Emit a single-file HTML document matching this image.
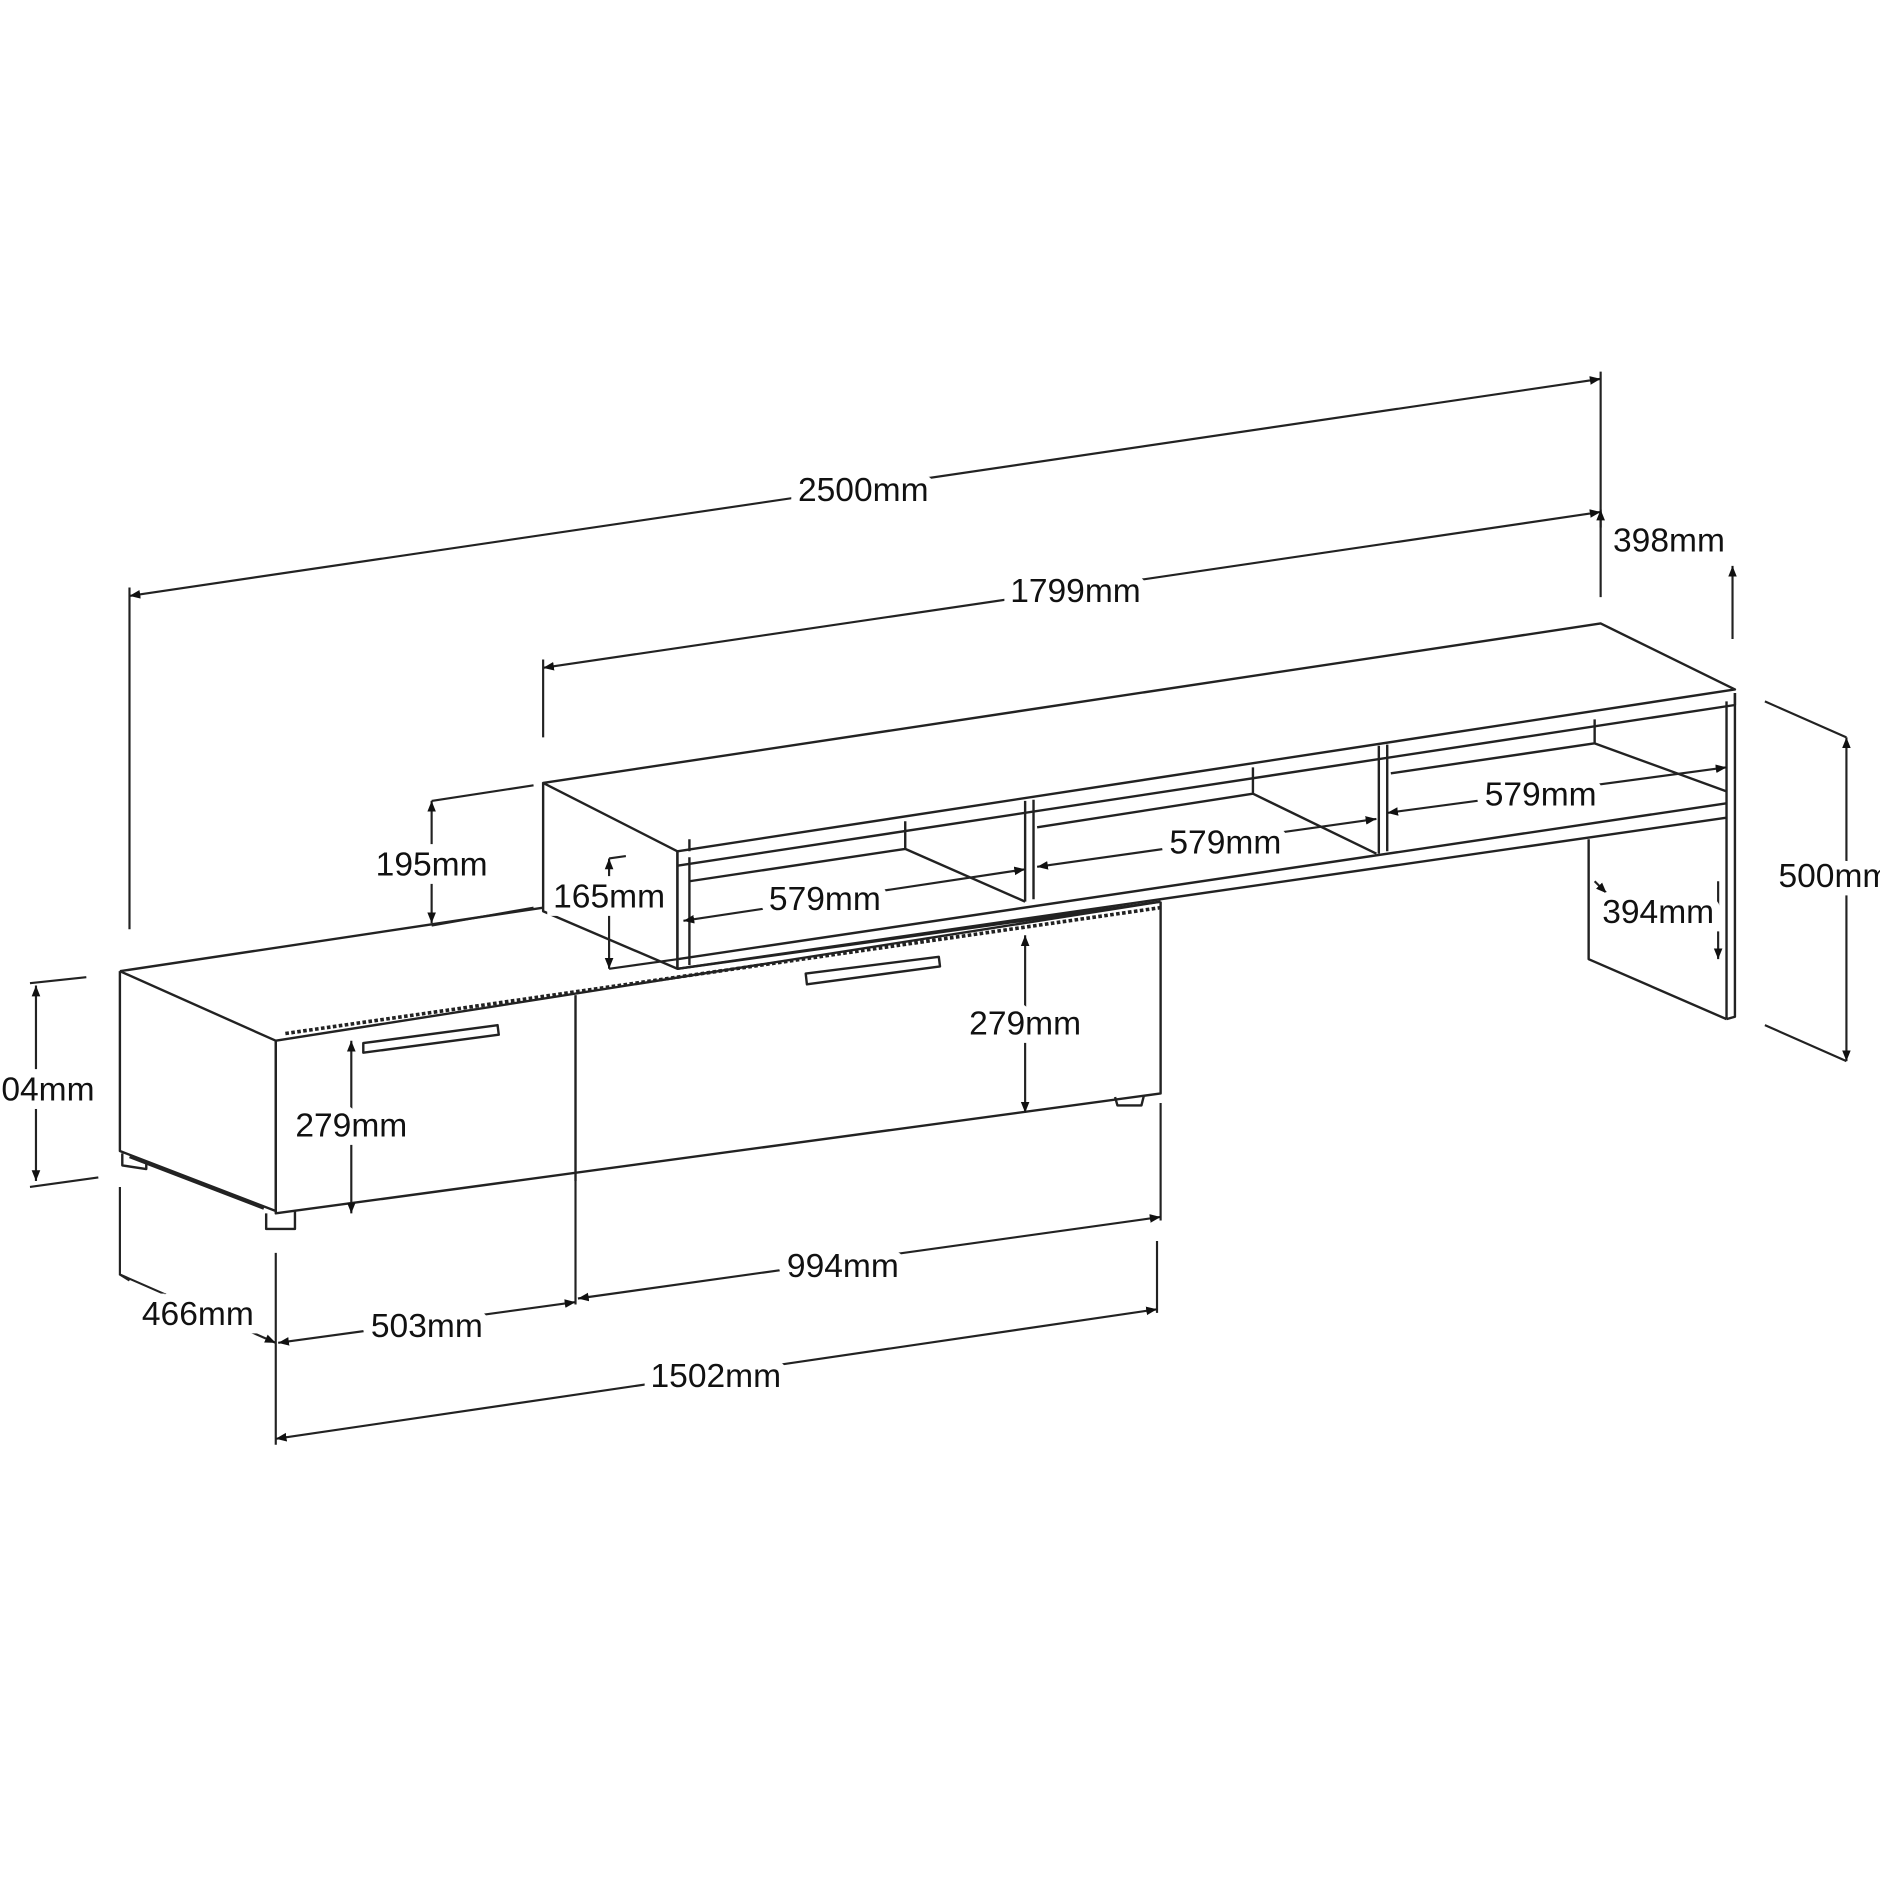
<!DOCTYPE html>
<html><head><style>html,body{margin:0;padding:0;background:#fff}svg{display:block}</style></head>
<body>
<svg width="1880" height="1880" viewBox="0 0 1568 1568" xmlns="http://www.w3.org/2000/svg">
<defs>
<marker id="a" viewBox="0 0 10 10" refX="10" refY="5" markerWidth="9" markerHeight="9" orient="auto-start-reverse" markerUnits="userSpaceOnUse"><path d="M0,1 L10,5 L0,9 z" fill="#111"/></marker>
</defs>
<g stroke="#222" stroke-width="2" fill="none" stroke-linejoin="round">
<path d="M453,653 L1335,520 L1447,575 L565,710 Z" fill="#fff"/>
<path d="M453,653 L453,760 L565,808 L565,710"/>
<path d="M565,710 L565,808 M575,715 L575,805"/>
<path d="M565,722 L1447,588 L1447,578"/>
<path d="M575,735 L755,708 M575,710 L575,700 M755,685 L755,708 L855,752"/>
<path d="M565,800 L1440,670 M565,808 L1440,682"/>
<path d="M855,668 L855,752 M862,667 L862,750"/>
<path d="M865,690 L1045,662 M1045,640 L1045,662 L1148,712"/>
<path d="M1150,622 L1150,712 M1157,621 L1157,710"/>
<path d="M1160,645 L1330,620 L1330,600 M1330,620 L1440,660"/>
<path d="M1440,585 L1440,850 M1447,578 L1447,848 L1440,850"/>
<path d="M1325,700 L1325,800 L1440,850"/>
<path d="M100,810 L453,757 M565,808 L968,752" />
<path d="M100,810 L230,868 L968,752"/>
<path d="M238,862 L968,757" stroke-dasharray="3,2" stroke-width="3"/>
<path d="M100,810 L100,960 L230,1010 L230,868"/>
<path d="M108,965 L220,1008"/>
<path d="M230,868 L230,1012 L968,912 L968,752"/>
<path d="M480,830 L480,985"/>
<path d="M303,870 L415,855 L416,863 L303,878 Z"/>
<path d="M672,812 L783,798 L784,806 L673,821 Z"/>
<path d="M222,1012 L222,1025 L246,1025 L246,1010 M102,962 L102,972 L122,975 L122,968 M930,915 L932,922 L952,922 L954,914"/>
</g>
<g stroke="#222" stroke-width="1.8" fill="none">
<path d="M108,497 L1335,316" marker-start="url(#a)" marker-end="url(#a)"/>
<path d="M108,490 L108,775 M1335,310 L1335,498"/>
<path d="M453,557 L1335,427" marker-start="url(#a)" marker-end="url(#a)"/>
<path d="M453,550 L453,615"/>
<path d="M1445,533 L1445,472" marker-end="url(#a)"/>
<path d="M1335,440 L1335,425" marker-end="url(#a)"/>
<path d="M30,985 L30,822" marker-start="url(#a)" marker-end="url(#a)"/>
<path d="M25,820 L72,815 M25,990 L82,982"/>
<path d="M360,770 L360,668" marker-start="url(#a)" marker-end="url(#a)"/>
<path d="M360,668 L445,655 M360,772 L445,757"/>
<path d="M508,808 L508,716" marker-start="url(#a)" marker-end="url(#a)"/>
<path d="M508,716 L522,714 M508,808 L565,800"/>
<path d="M570,768 L855,725" marker-start="url(#a)" marker-end="url(#a)"/>
<path d="M865,723 L1148,683" marker-start="url(#a)" marker-end="url(#a)"/>
<path d="M1157,678 L1440,640" marker-start="url(#a)" marker-end="url(#a)"/>
<path d="M1433,800 L1433,735" marker-start="url(#a)"/>
<path d="M1330,735 L1340,745" marker-end="url(#a)"/>
<path d="M1540,885 L1540,615" marker-start="url(#a)" marker-end="url(#a)"/>
<path d="M1472,585 L1540,615 M1472,855 L1540,885"/>
<path d="M293,1012 L293,868" marker-start="url(#a)" marker-end="url(#a)"/>
<path d="M855,928 L855,780" marker-start="url(#a)" marker-end="url(#a)"/>
<path d="M100,990 L100,1063 L108,1068" />
<path d="M100,1063 L230,1120" marker-end="url(#a)"/>
<path d="M230,1045 L230,1205 M480,985 L480,1088 M965,1035 L965,1095 M968,920 L968,1018"/>
<path d="M232,1120 L480,1086" marker-start="url(#a)" marker-end="url(#a)"/>
<path d="M482,1083 L968,1015" marker-start="url(#a)" marker-end="url(#a)"/>
<path d="M230,1200 L965,1092" marker-start="url(#a)" marker-end="url(#a)"/>
</g>
<g font-family="Liberation Sans, Arial, sans-serif" font-size="28" fill="#111" stroke="#fff" stroke-width="14" paint-order="stroke" text-anchor="middle">
<text x="720" y="418">2500mm</text>
<text x="897" y="502">1799mm</text>
<text x="1392" y="460">398mm</text>
<text x="40" y="918">04mm</text>
<text x="360" y="730">195mm</text>
<text x="508" y="757">165mm</text>
<text x="688" y="759">579mm</text>
<text x="1022" y="712">579mm</text>
<text x="1285" y="672">579mm</text>
<text x="1383" y="770">394mm</text>
<text x="1530" y="740">500mm</text>
<text x="293" y="948">279mm</text>
<text x="855" y="863">279mm</text>
<text x="165" y="1105">466mm</text>
<text x="356" y="1115">503mm</text>
<text x="703" y="1065">994mm</text>
<text x="597" y="1157">1502mm</text>
</g>
</svg>
</body></html>
